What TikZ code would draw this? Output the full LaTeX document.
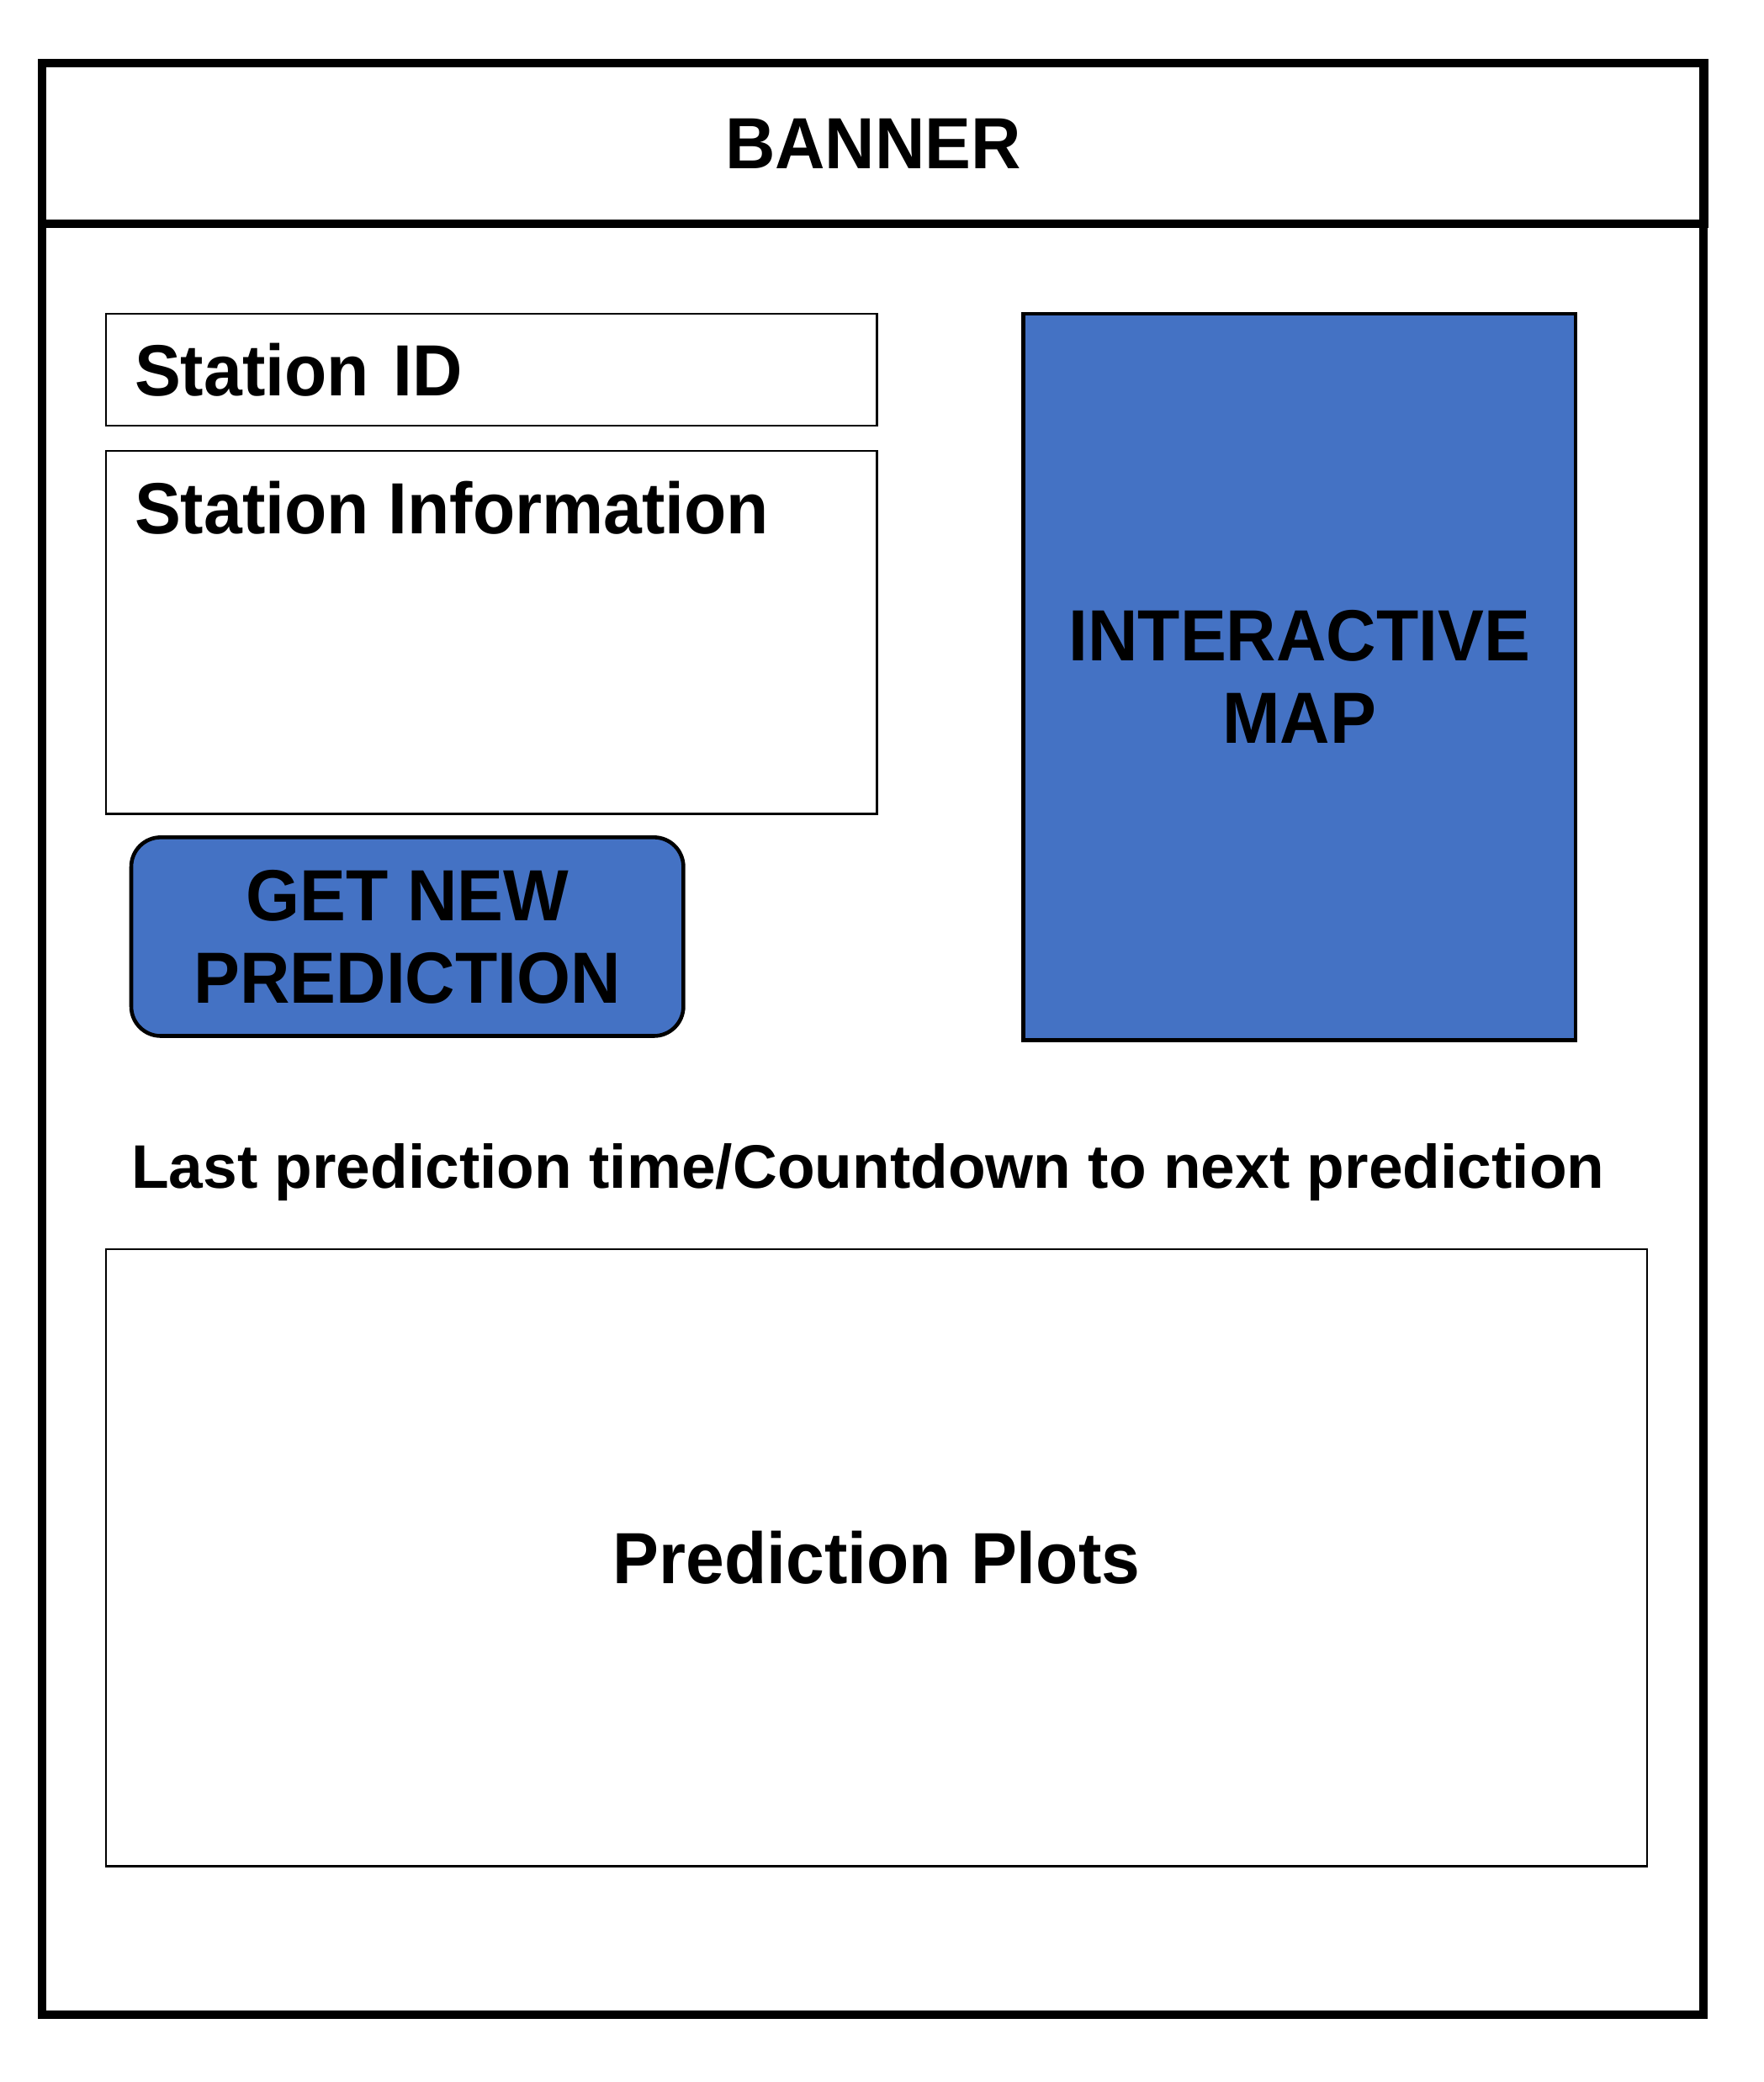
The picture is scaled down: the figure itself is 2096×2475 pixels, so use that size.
\documentclass[tikz,border=0pt]{standalone}
\usepackage{fontspec}
\setmainfont{Liberation Sans}
\newfontfamily\narrowsans[FakeStretch=0.955]{Liberation Sans}
\usepackage{xcolor}
\usetikzlibrary{positioning}
\definecolor{mapblue}{HTML}{4472C4}

\begin{document}
\begin{tikzpicture}[
  x = 0.01cm, y = -0.01cm,
  font = \narrowsans\bfseries\fontsize{24.5pt}{27.9pt}\selectfont,
  outerline/.style = {draw, line width=2.85pt},
  panel/.style = {rectangle, draw, line width=0.77pt, outer sep=0pt,
                  inner sep=0pt, minimum width=9.16cm},
  bluebox/.style = {rectangle, draw, line width=1.3pt, fill=mapblue,
                    align=center, outer sep=0pt, inner sep=0pt,
                    minimum width=6.56cm},
  caption/.style = {inner sep=0pt, outer sep=0pt},
]
\useasboundingbox (0,0) rectangle (2096,2475);
\draw[outerline] (50,75) rectangle (2025,2395);
\node[outerline, rectangle, outer sep=0pt, anchor=north west,
      minimum width=19.75cm, minimum height=1.91cm] (banner) at (50,75) {BANNER};

\node[panel, anchor=north west, minimum height=1.33cm, text width=8.48cm,
      inner xsep=0.34cm, align=left] (sid) at (126,373) {Station ID};
\node[panel, below=0.3cm of sid, minimum height=4.31cm,
      label={[caption, anchor=base west, xshift=0.34cm, yshift=-0.98cm]north west:Station Information}] (sinfo) {};
\node[bluebox, below=0.28cm of sinfo.south west, anchor=north west, xshift=0.3cm,
      minimum height=2.36cm, rounded corners=0.35cm] (btn) {GET NEW\\PREDICTION};
\node[bluebox, right=1.74cm of sid.north east, anchor=north west,
      minimum height=8.63cm] (map) {INTERACTIVE\\MAP};

\node[caption, anchor=base west, font=\rmfamily\bfseries\fontsize{20.8pt}{24pt}\selectfont]
      (last) at (156,1412) {Last prediction time/Countdown to next prediction};
\node[panel, anchor=north west, minimum width=18.31cm, minimum height=7.33cm]
      (plots) at (126,1485) {Prediction Plots};
\end{tikzpicture}
\end{document}
